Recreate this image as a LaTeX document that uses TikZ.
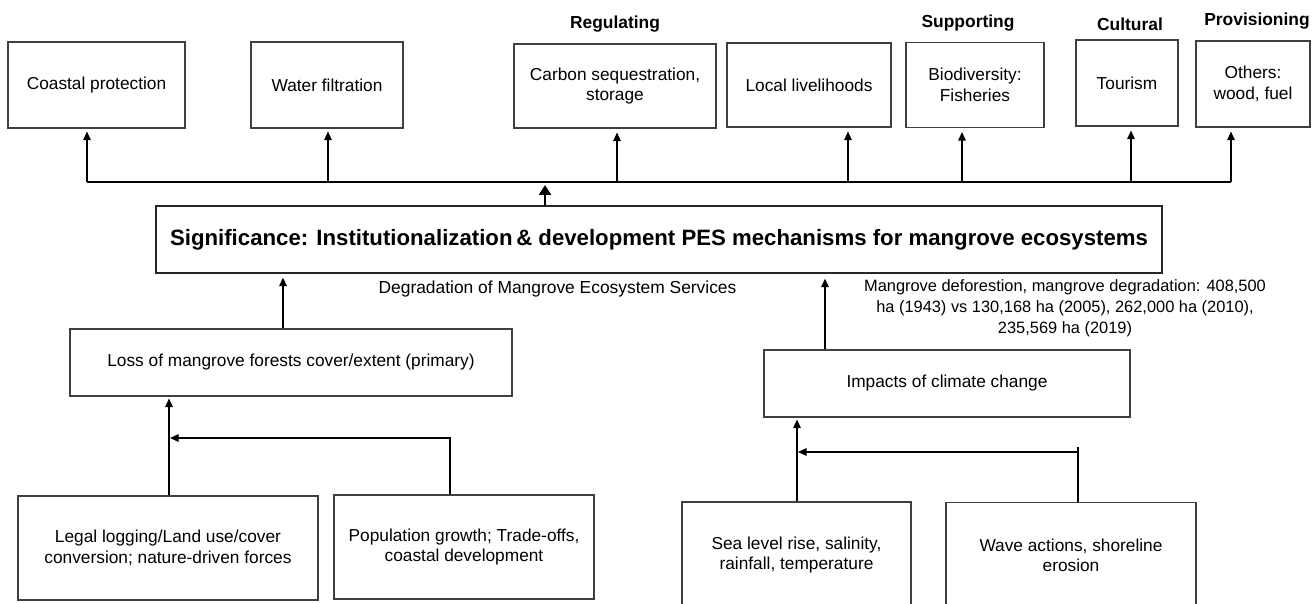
\documentclass[tikz,border=0pt]{standalone}
\usepackage{fontspec}
\setmainfont{Liberation Sans}
\usetikzlibrary{arrows.meta}

\tikzset{
  box/.style={draw=black!75, line width=1.1pt, inner sep=0pt, align=center,
              font=\fontsize{17.3}{20.5}\selectfont},
  cat/.style={inner sep=0pt, font=\fontsize{17.4}{20}\selectfont\bfseries},
  note/.style={inner sep=0pt, align=center},
  link/.style={draw=black, line width=1.4pt},
  arr/.style={link, -{Triangle[length=8.5pt,width=7.5pt]}},
  bigarr/.style={draw=black, line width=2.8pt, -{Triangle[length=10pt,width=12pt]}},
}

\begin{document}
\begin{tikzpicture}[x=1pt, y=-1pt]
\useasboundingbox (0,0) rectangle (1312,604);
\clip (0,0) rectangle (1312,604);

% service categories
\node[cat] (lreg) at (615,24) {Regulating};
\node[cat] (lsup) at (968,23) {Supporting};
\node[cat] (lcul) at (1130,24) {Cultural};
\node[cat] (lpro) at (1257,21) {Provisioning};

% ecosystem services
\node[box, minimum width=177pt, minimum height=86pt] (cp) at (96.5,85) {Coastal protection};
\node[box, minimum width=152pt, minimum height=86pt] (wf) at (327,85) {Water filtration};
\node[box, minimum width=202pt, minimum height=84pt] (cs) at (615,86) {Carbon sequestration,\\storage};
\node[box, minimum width=164pt, minimum height=84pt] (ll) at (809,85) {Local livelihoods};
\node[box, minimum width=138pt, minimum height=85pt] (bd) at (975,85) {Biodiversity:\\Fisheries};
\node[box, minimum width=102pt, minimum height=86pt] (tr) at (1127,83) {Tourism};
\node[box, minimum width=114pt, minimum height=86pt] (ot) at (1253,84) {Others:\\wood,\ fuel};

% central statement
\node[box, line width=1.3pt, draw=black!85, minimum width=1006pt, minimum height=67pt,
      font=\fontsize{22.2}{26}\selectfont\bfseries] (sig) at (659,239.5)
  {Significance: Institutionalization\,\& development PES mechanisms for mangrove ecosystems};

\node[note, font=\fontsize{17.4}{20}\selectfont] (deg) at (557.5,289)
  {Degradation of Mangrove Ecosystem Services};
\node[note, font=\fontsize{16.4}{21}\selectfont] (mdef) at (1065,308)
  {Mangrove deforestion, mangrove degradation: 408,500\\
   ha (1943) vs 130,168 ha (2005), 262,000 ha (2010),\\
   235,569 ha (2019)};

% drivers
\node[box, minimum width=442pt, minimum height=67pt] (loss) at (291,362.5)
  {Loss of mangrove forests cover/extent (primary)};
\node[box, minimum width=366pt, minimum height=67pt] (imp) at (947,383.5)
  {Impacts of climate change};
\node[box, minimum width=300pt, minimum height=104pt] (legal) at (168,548)
  {Legal logging/Land use/cover\\conversion; nature-driven forces};
\node[box, minimum width=260pt, minimum height=104pt] (pop) at (464,547)
  {Population growth; Trade-offs,\\coastal development};
\node[box, minimum width=229pt, minimum height=106pt] (sea) at (796.5,555)
  {Sea level rise, salinity,\\rainfall, temperature};
\node[box, minimum width=250pt, minimum height=106pt] (wave) at (1071,555.5)
  {Wave actions, shoreline\\erosion};

% distribution bus to the services
\coordinate (b1) at (87,182);
\coordinate (b2) at (328,182);
\coordinate (b3) at (617,182);
\coordinate (b4) at (848,182);
\coordinate (b5) at (962,182);
\coordinate (b6) at (1131,182);
\coordinate (b7) at (1231,182);
\coordinate (bt) at (545,182);
\draw[link] (b1) -- (b7);
\draw[arr, shorten >=3pt] (b1) -- (b1 |- cp.south);
\draw[arr, shorten >=3pt] (b2) -- (b2 |- wf.south);
\draw[arr, shorten >=4pt] (b3) -- (b3 |- cs.south);
\draw[arr, shorten >=4pt] (b4) -- (b4 |- ll.south);
\draw[arr, shorten >=4pt] (b5) -- (b5 |- bd.south);
\draw[arr, shorten >=4pt] (b6) -- (b6 |- tr.south);
\draw[arr, shorten >=4pt] (b7) -- (b7 |- ot.south);
\draw[bigarr, shorten >=3pt] (bt |- sig.north) -- (bt);

% left branch
\coordinate (la) at (283,300);
\coordinate (lb) at (169,450);
\coordinate (pj) at (450,438);
\draw[arr, shorten >=4pt] (la |- loss.north) -- (la |- sig.south);
\draw[arr, shorten >=2pt] (lb |- legal.north) -- (lb |- loss.south);
\draw[arr, shorten >=1pt] (pj |- pop.north) -- (pj) -- (lb |- pj);

% right branch
\coordinate (ra) at (825,300);
\coordinate (rb) at (797,460);
\coordinate (wj) at (1078,452);
\coordinate (wt) at (1078,447);
\draw[arr, shorten >=5pt] (ra |- imp.north) -- (ra |- sig.south);
\draw[arr, shorten >=2pt] (rb |- sea.north) -- (rb |- imp.south);
\draw[link] (wt |- wave.north) -- (wt);
\draw[arr, shorten >=1pt] (wj) -- (rb |- wj);
\end{tikzpicture}
\end{document}
